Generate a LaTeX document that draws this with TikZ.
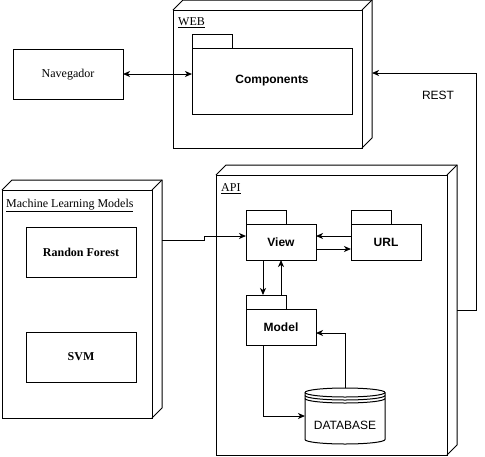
\documentclass[tikz,border=0pt]{standalone}
\usepackage{fontspec}
\setmainfont{Liberation Serif}
\setsansfont{Liberation Sans}
\usetikzlibrary{calc,arrows.meta}

\tikzset{
  base/.style={draw=black, line width=1pt, inner sep=0pt, outer sep=0pt},
  face/.style={base, anchor=north west},
  tab/.style={base, anchor=south west, minimum width=40pt, minimum height=13.5pt},
  pkgtext/.style={font=\sffamily\bfseries\fontsize{12}{14}\selectfont},
  serif/.style={font=\rmfamily\fontsize{12}{14}\selectfont},
  serifb/.style={font=\rmfamily\bfseries\fontsize{12}{14}\selectfont},
  lbl/.style={anchor=north west, inner sep=0pt, font=\rmfamily\fontsize{12}{14}\selectfont},
  plain/.style={font=\sffamily\fontsize{12}{14}\selectfont},
  conn/.style={line width=1pt, -{Stealth[length=7pt,width=6pt,inset=2pt]}},
  conn2/.style={line width=1pt, {Stealth[length=7pt,width=6pt,inset=2pt]}-{Stealth[length=7pt,width=6pt,inset=2pt]}},
}

\begin{document}
\begin{tikzpicture}[x=1pt, y=-1pt, line join=miter]
\useasboundingbox (0,0) rectangle (485,456);

% ---------- WEB node ----------
\node[face, minimum width=189pt, minimum height=138pt] (web) at (173,10) {};
\draw[line width=1pt] (web.north west) -- ++(10,-10) -- ++(189,0) -- ++(0,138) -- (web.south east);
\draw[line width=1pt] (web.north east) -- ++(10,-10);
\node[lbl] (weblbl) at (178,17.5) {\underline{WEB}};

\node[face, minimum width=160pt, minimum height=66pt, pkgtext] (comp) at (192,48) {Components};
\node[tab] (comptab) at (comp.north west) {};

% ---------- Browser ----------
\node[face, minimum width=110pt, minimum height=50pt] (nav) at (13,49) {};
\node[serif] (navtxt) at ($(nav.center)+(0,1)$) {Navegador};

% ---------- Machine Learning Models node ----------
\node[face, minimum width=150pt, minimum height=228pt] (ml) at (2,190) {};
\draw[line width=1pt] (ml.north west) -- ++(10,-10) -- ++(150,0) -- ++(0,228) -- (ml.south east);
\draw[line width=1pt] (ml.north east) -- ++(10,-10);
\node[lbl] (mllbl) at (6,198.5) {\underline{Machine Learning Models}};

\node[face, minimum width=110pt, minimum height=50pt, serifb] (rf) at (26,227) {Randon Forest};
\node[face, minimum width=110pt, minimum height=50pt, serifb] (svm) at (26,332) {SVM};

% ---------- API node ----------
\node[face, minimum width=231pt, minimum height=280pt] (api) at (216,175) {};
\draw[line width=1pt] (api.north west) -- ++(10,-10) -- ++(231,0) -- ++(0,280) -- (api.south east);
\draw[line width=1pt] (api.north east) -- ++(10,-10);
\node[lbl] (apilbl) at (221,183.5) {\underline{API}};

\node[face, minimum width=70pt, minimum height=36pt, pkgtext] (view) at (246,224) {View};
\node[tab] (viewtab) at (view.north west) {};
\node[face, minimum width=70pt, minimum height=36pt, pkgtext] (url) at (351,224) {URL};
\node[tab] (urltab) at (url.north west) {};
\node[face, minimum width=70pt, minimum height=36pt, pkgtext] (model) at (246,309) {Model};
\node[tab] (modeltab) at (model.north west) {};

% ---------- Database (data store) ----------
\draw[line width=1pt, fill=white]
  (305,392.5) arc[start angle=180, end angle=0, x radius=40, y radius=-4.5]
  -- (385,439.5) arc[start angle=0, end angle=-180, x radius=40, y radius=-4.5] -- cycle;
\draw[line width=1pt] (305,392.5) arc[start angle=180, end angle=360, x radius=40, y radius=-4.5];
\draw[line width=1pt] (305,395.5) arc[start angle=180, end angle=360, x radius=40, y radius=-4.5];
\draw[line width=1pt] (305,398.5) arc[start angle=180, end angle=360, x radius=40, y radius=-4.5];
\node[plain] (db) at (345,425) {DATABASE};
\coordinate (dbtop) at (345,388);
\coordinate (dbleft) at (305,416);

% ---------- Connectors ----------
\draw[conn2] (nav.east) -- (nav.east -| comp.west);

\coordinate (apiback) at (457,310);
\coordinate (webback) at (372,73);
\draw[conn] (apiback) -- (476,310) |- (webback);
\node[plain] (rest) at (438,95) {REST};

\coordinate (mlback) at (162,240);
\coordinate (viewin) at (246,236);
\draw[conn] (mlback) -- (204,240) -- (204,236) -- (viewin);

\draw[conn] (url.west |- viewin) -- (view.east |- viewin);
\draw[conn] ($(view.east)+(0,7)$) -- ($(url.west)+(0,7)$);

\draw[conn] (263,260) -- (263,295);
\draw[conn] (281,295) -- (281,260);

\draw[conn] (263,345) |- (dbleft);
\draw[conn] (dbtop) |- (316,333);

\end{tikzpicture}
\end{document}
